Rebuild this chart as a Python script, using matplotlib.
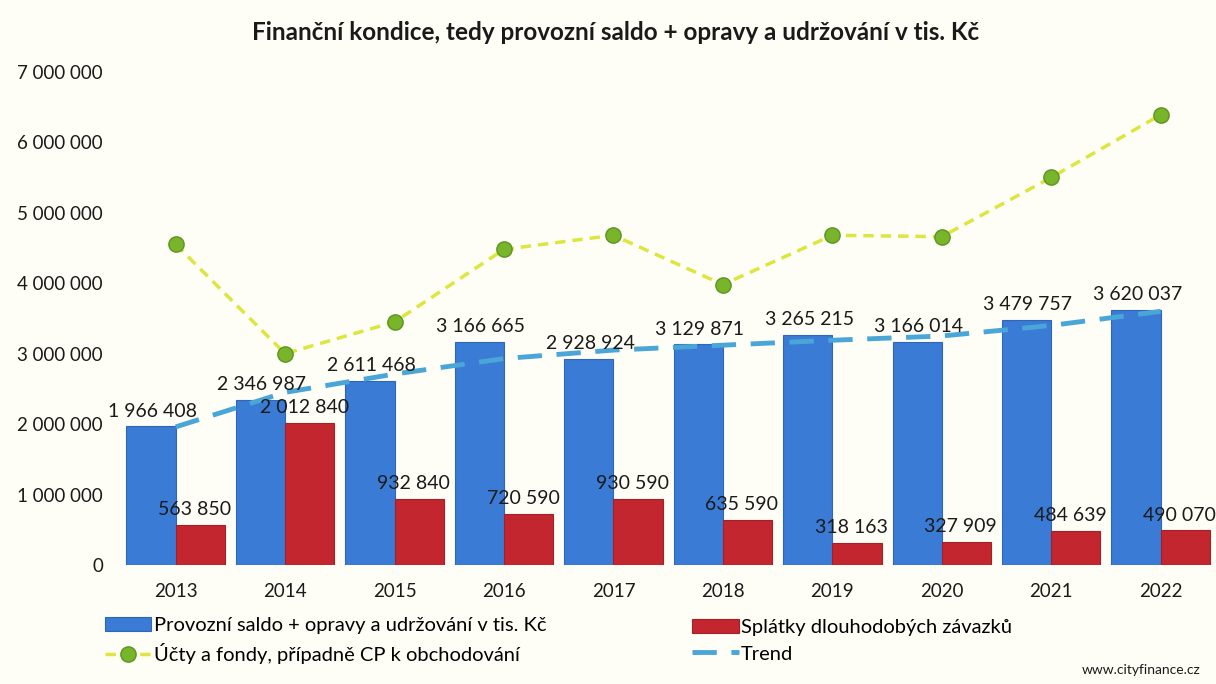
import numpy as np
import matplotlib.pyplot as plt
from matplotlib.ticker import FuncFormatter

plt.rcParams['font.family'] = ['Lato', 'DejaVu Sans']

years = ['2013', '2014', '2015', '2016', '2017', '2018', '2019', '2020', '2021', '2022']
provozni = [1966408, 2346987, 2611468, 3166665, 2928924, 3129871, 3265215, 3166014, 3479757, 3620037]
splatky = [563850, 2012840, 932840, 720590, 930590, 635590, 318163, 327909, 484639, 490070]
ucty = [4550000, 3000000, 3450000, 4480000, 4680000, 3980000, 4680000, 4660000, 5500000, 6390000]
# trend
trend = [1960000, 2450000, 2710000, 2930000, 3050000, 3120000, 3190000, 3250000, 3400000, 3600000]

lab_blue = 'Provozní saldo + opravy a udržování v tis. Kč'
lab_red = 'Splátky dlouhodobých závazků'
lab_green = 'Účty a fondy, případně CP k obchodování'
lab_trend = 'Trend'

def fmt(v):
    return f"{int(v):,}".replace(',', ' ')

bg = '#FFFEF6'
fig = plt.figure(figsize=(12.16, 6.84), dpi=100, facecolor=bg)
ax = fig.add_axes([0.0995, 0.174, 0.9, 0.721])
ax.set_facecolor(bg)

x = np.arange(len(years))
w = 0.45
b1 = ax.bar(x - w / 2, provozni, w, color='#3A7BD5', edgecolor='#2F67B8', lw=0.8, zorder=2)
b2 = ax.bar(x + w / 2, splatky, w, color='#C3262E', edgecolor='#A51F26', lw=0.8, zorder=2)

ln_trend, = ax.plot(x, trend, ls=(0, (5, 3)), color='#4BA6D8', lw=3.5, zorder=3)
ln_green, = ax.plot(x, ucty, ls=(0, (3, 2)), color='#DDE63E', lw=2.5, marker='o', ms=11,
                    mfc='#78B52A', mec='#5C9420', zorder=4)

for xi, v in zip(x, provozni):
    ax.annotate(fmt(v), (xi - w / 2, v), xytext=(1, 5), textcoords='offset points',
                ha='center', va='bottom', fontsize=14, color='#1a1a1a', zorder=5)
for xi, v in zip(x, splatky):
    ax.annotate(fmt(v), (xi + w / 2, v), xytext=(-4, 5), textcoords='offset points',
                ha='center', va='bottom', fontsize=14, color='#1a1a1a', zorder=5)

ax.set_xlim(-0.5, 9.5)
ax.set_ylim(0, 7000000)
ax.set_xticks(x)
ax.set_xticklabels(years)
ax.set_yticks(np.arange(0, 7000001, 1000000))
ax.yaxis.set_major_formatter(FuncFormatter(lambda v, p: fmt(v)))
ax.tick_params(length=0, labelsize=13.5, colors='#1a1a1a')
ax.tick_params(axis='y', pad=13)
ax.tick_params(axis='x', pad=13)
for s in ax.spines.values():
    s.set_visible(False)

fig.text(0.506, 0.952, 'Finanční kondice, tedy provozní saldo + opravy a udržování v tis. Kč',
         ha='center', va='center', fontsize=17.5, fontweight='bold', color='#1a1a1a')

leg1 = fig.legend([b1, ln_green], [lab_blue, lab_green], loc='center left',
                  bbox_to_anchor=(0.078, 0.063), frameon=False, fontsize=14.5,
                  handlelength=2.3, handletextpad=0.12, labelspacing=0.45, borderpad=0)
leg2 = fig.legend([b2, ln_trend], [lab_red, lab_trend], loc='center left',
                  bbox_to_anchor=(0.561, 0.063), frameon=False, fontsize=14.5,
                  handlelength=2.3, handletextpad=0.12, labelspacing=0.45, borderpad=0)

fig.text(0.987, 0.012, 'www.cityfinance.cz', ha='right', va='bottom', fontsize=10, color='#1a1a1a')

fig.savefig('out.png', dpi=100, facecolor=bg)
